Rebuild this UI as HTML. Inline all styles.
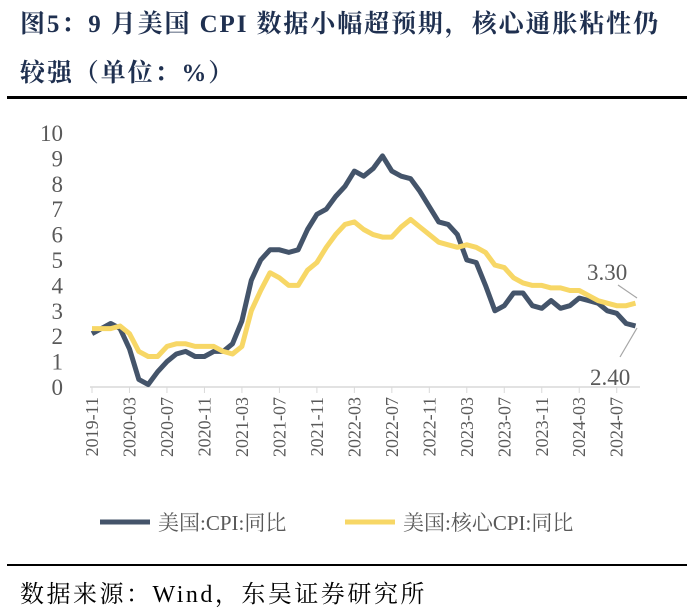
<!DOCTYPE html><html><head><meta charset="utf-8"><style>
body{margin:0;background:#fff;width:694px;height:609px;overflow:hidden;position:relative;font-family:"Liberation Serif","Noto Serif CJK SC",serif}
.t{position:absolute;left:20px;font-size:25px;font-weight:bold;color:#1f3050;font-family:"Liberation Serif","Noto Serif CJK SC",serif;letter-spacing:1.9px;white-space:nowrap}
</style></head><body>
<div class="t" style="top:4px">图5：9 月美国 CPI 数据小幅超预期，核心通胀粘性仍</div>
<div class="t" style="top:53px">较强（单位：%）</div>
<div style="position:absolute;left:7px;top:96px;width:680px;height:3px;background:#000"></div>
<div style="position:absolute;left:7px;top:564px;width:680px;height:2px;background:#000"></div>
<div style="position:absolute;left:20px;top:574px;font-size:24px;color:#000;letter-spacing:2.5px;white-space:nowrap">数据来源：Wind，东吴证券研究所</div>
<svg id="s" width="694" height="609" style="position:absolute;left:0;top:0"></svg>
<script>
var cpi=[2.1,2.3,2.5,2.3,1.5,0.3,0.1,0.6,1.0,1.3,1.4,1.2,1.2,1.4,1.4,1.7,2.6,4.2,5.0,5.4,5.4,5.3,5.4,6.2,6.8,7.0,7.5,7.9,8.5,8.3,8.6,9.1,8.5,8.3,8.2,7.7,7.1,6.5,6.4,6.0,5.0,4.9,4.0,3.0,3.2,3.7,3.7,3.2,3.1,3.4,3.1,3.2,3.5,3.4,3.3,3.0,2.9,2.5,2.4];
var core=[2.3,2.3,2.3,2.4,2.1,1.4,1.2,1.2,1.6,1.7,1.7,1.6,1.6,1.6,1.4,1.3,1.6,3.0,3.8,4.5,4.3,4.0,4.0,4.6,4.9,5.5,6.0,6.4,6.5,6.2,6.0,5.9,5.9,6.3,6.6,6.3,6.0,5.7,5.6,5.5,5.6,5.5,5.3,4.8,4.7,4.3,4.1,4.0,4.0,3.9,3.9,3.8,3.8,3.6,3.4,3.3,3.2,3.2,3.3];
function X(i){return 92+9.37*i}function Y(v){return 387-25.4*v}
var h='';
for(var k=0;k<=10;k++)h+='<text x="63" y="'+(Y(k)+8)+'" text-anchor="end" font-size="23" fill="#595959">'+k+'</text>';
h+='<line x1="90" y1="387" x2="640" y2="387" stroke="#d9d9d9" stroke-width="1.5"/>';
var labs=['2019-11','2020-03','2020-07','2020-11','2021-03','2021-07','2021-11','2022-03','2022-07','2022-11','2023-03','2023-07','2023-11','2024-03','2024-07'];
for(var j=0;j<15;j++){var x=X(j*4);h+='<line x1="'+x+'" y1="387" x2="'+x+'" y2="393" stroke="#d9d9d9"/>';h+='<text transform="translate('+(x+6)+',397) rotate(-90)" text-anchor="end" font-size="18" fill="#595959">'+labs[j]+'</text>';}
function p(a,c){return '<polyline fill="none" stroke="'+c+'" stroke-width="5" stroke-linejoin="round" points="'+a.map(function(v,i){return X(i).toFixed(1)+','+Y(v).toFixed(1)}).join(' ')+'"/>'}
h+=p(cpi,'#44546a')+p(core,'#f7d766');
h+='<line x1="618" y1="285" x2="637" y2="298" stroke="#a6a6a6" stroke-width="1.2"/><line x1="620" y1="357" x2="637" y2="328" stroke="#a6a6a6" stroke-width="1.2"/>';
h+='<text x="587" y="280" font-size="23" fill="#595959">3.30</text><text x="590" y="385" font-size="23" fill="#595959">2.40</text>';
h+='<line x1="100" y1="522" x2="150" y2="522" stroke="#44546a" stroke-width="5"/><text x="158" y="530" font-size="21" fill="#595959" font-family="Liberation Serif,Noto Serif CJK SC,serif">美国:CPI:同比</text>';
h+='<line x1="345" y1="522" x2="395" y2="522" stroke="#f7d766" stroke-width="5"/><text x="403" y="530" font-size="21" fill="#595959" font-family="Liberation Serif,Noto Serif CJK SC,serif">美国:核心CPI:同比</text>';
document.getElementById('s').innerHTML=h;
</script></body></html>
